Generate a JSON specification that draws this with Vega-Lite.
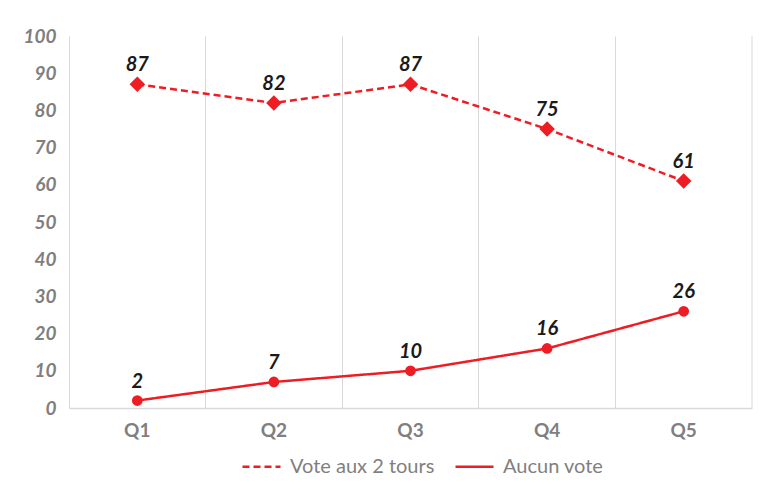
{
  "$schema": "https://vega.github.io/schema/vega-lite/v6.json",
  "width": 683,
  "height": 372,
  "autosize": {"type": "none"},
  "padding": {"left": 69, "top": 36, "right": 9, "bottom": 85},
  "background": "white",
  "config": {
    "view": {"stroke": null},
    "font": "Lato"
  },
  "data": {
    "values": [
      {"q": "Q1", "serie": "Vote aux 2 tours", "v": 87},
      {"q": "Q2", "serie": "Vote aux 2 tours", "v": 82},
      {"q": "Q3", "serie": "Vote aux 2 tours", "v": 87},
      {"q": "Q4", "serie": "Vote aux 2 tours", "v": 75},
      {"q": "Q5", "serie": "Vote aux 2 tours", "v": 61},
      {"q": "Q1", "serie": "Aucun vote", "v": 2},
      {"q": "Q2", "serie": "Aucun vote", "v": 7},
      {"q": "Q3", "serie": "Aucun vote", "v": 10},
      {"q": "Q4", "serie": "Aucun vote", "v": 16},
      {"q": "Q5", "serie": "Aucun vote", "v": 26}
    ]
  },
  "encoding": {
    "x": {
      "field": "q", "type": "nominal",
      "scale": {"type": "band", "paddingInner": 0, "paddingOuter": 0},
      "axis": {
        "title": null, "labelAngle": 0, "grid": true, "bandPosition": 0,
        "gridColor": "#d9d9d9", "gridWidth": 1,
        "ticks": false, "domainColor": "#d9d9d9", "domainWidth": 1.5,
        "labelFont": "Lato", "labelFontWeight": "bold", "labelFontSize": 19,
        "labelColor": "#7f7f7f", "labelPadding": 13
      }
    },
    "y": {
      "field": "v", "type": "quantitative",
      "scale": {"domain": [0, 100], "nice": false},
      "axis": {
        "title": null, "grid": false, "domain": false, "ticks": false,
        "values": [0,10,20,30,40,50,60,70,80,90,100],
        "labelFont": "Lato", "labelFontWeight": "bold", "labelFontStyle": "italic",
        "labelFontSize": 19, "labelColor": "#7f7f7f", "labelPadding": 13
      }
    }
  },
  "layer": [
    {
      "data": {"values": [{"q": "Q5"}]},
      "mark": {"type": "rule", "color": "#d9d9d9", "strokeWidth": 1},
      "encoding": {"x": {"field": "q", "type": "nominal", "bandPosition": 1}, "y": null}
    },
    {
      "mark": {"type": "line", "strokeWidth": 2.5},
      "encoding": {
        "color": {
          "field": "serie", "type": "nominal",
          "scale": {"domain": ["Vote aux 2 tours", "Aucun vote"], "range": ["#ee1d24", "#ee1d24"]},
          "legend": {
            "title": null, "orient": "none", "direction": "horizontal",
            "legendX": 172, "legendY": 410,
            "labelFont": "Lato", "labelFontSize": 20, "labelColor": "#7f7f7f",
            "symbolType": "stroke", "symbolSize": 1444, "symbolStrokeWidth": 2.5,
            "columnPadding": 15, "labelOffset": 8
          }
        },
        "strokeDash": {
          "field": "serie", "type": "nominal",
          "scale": {"domain": ["Vote aux 2 tours", "Aucun vote"], "range": [[7, 4], [1, 0]]}
        }
      }
    },
    {
      "transform": [{"filter": "datum.serie === 'Vote aux 2 tours'"}],
      "mark": {"type": "point", "shape": "diamond", "filled": true, "size": 240, "color": "#ee1d24", "opacity": 1}
    },
    {
      "transform": [{"filter": "datum.serie === 'Aucun vote'"}],
      "mark": {"type": "point", "shape": "circle", "filled": true, "size": 115, "color": "#ee1d24", "opacity": 1}
    },
    {
      "mark": {"type": "text", "baseline": "bottom", "dy": -9, "font": "Lato",
        "fontWeight": "bold", "fontStyle": "italic", "fontSize": 20, "color": "#1a1a1a"},
      "encoding": {"text": {"field": "v", "type": "quantitative"}}
    }
  ]
}
